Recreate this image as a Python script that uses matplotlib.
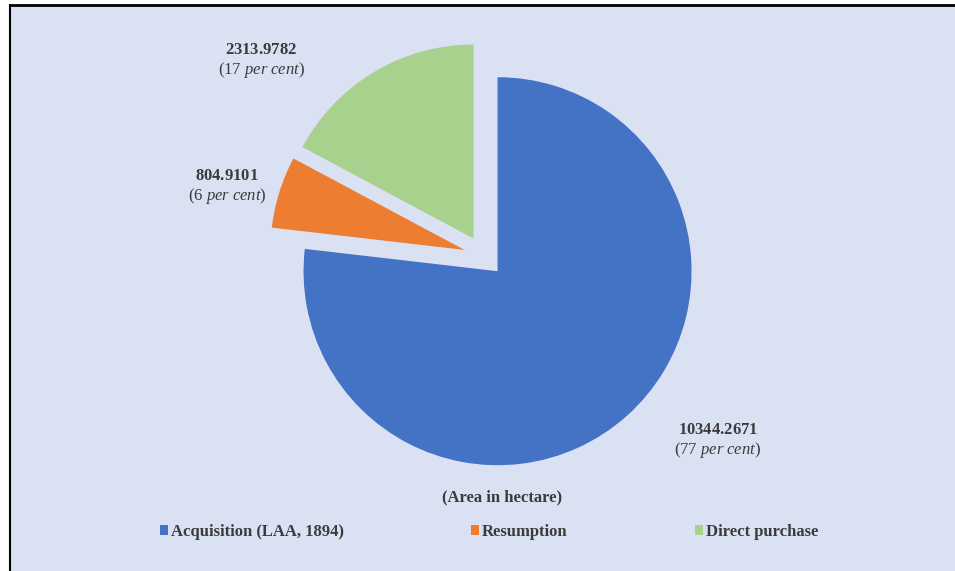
import matplotlib
matplotlib.use('Agg')
import matplotlib.pyplot as plt
from matplotlib.patches import Rectangle
from matplotlib.lines import Line2D

# data
categories = ['Acquisition (LAA, 1894)', 'Resumption', 'Direct purchase']
areas = [10344.2671, 804.9101, 2313.9782]
shares = [77, 6, 17]
colors = ['#4472C4', '#ED7D31', '#A9D18E']

# where the data labels sit (data coords, pie radius = 1)
label_pos = [(1.206, -0.954), (-1.325, 0.356), (-1.149, 1.005)]

plt.rcParams['font.family'] = 'Liberation Serif'
plt.rcParams['mathtext.fontset'] = 'custom'
plt.rcParams['mathtext.rm'] = 'Liberation Serif'
plt.rcParams['mathtext.it'] = 'Liberation Serif:italic'
plt.rcParams['mathtext.bf'] = 'Liberation Serif:bold'

bg = '#dae1f3'
txt = '#3b3b3b'

fig = plt.figure(figsize=(9.55, 5.71), dpi=100, facecolor='white')

# chart area background + the cut-off frame lines
fig.patches.append(Rectangle((11 / 955, 0), 1, 1 - 6 / 571, transform=fig.transFigure,
                             facecolor=bg, edgecolor='none', zorder=-5))
fig.lines.append(Line2D([10 / 955, 1], [1 - 5 / 571, 1 - 5 / 571], transform=fig.transFigure,
                        color='black', linewidth=2, zorder=-4))
fig.lines.append(Line2D([10 / 955, 10 / 955], [0, 1 - 5 / 571], transform=fig.transFigure,
                        color='black', linewidth=1.5, zorder=-4))

ax = fig.add_axes([0, 0, 1, 1])
ax.set_facecolor('none')
ax.set_zorder(1)

# every slice pulled out a little, like the Excel original
wedges, _ = ax.pie(areas, colors=colors, startangle=90, counterclock=False,
                   explode=[0.105, 0.105, 0.105], wedgeprops=dict(linewidth=0))

# same pixel scale on both axes, pie centre at (484, 256) px, radius 194 px
ax.set_aspect('auto')
ax.set_xlim(-484 / 194, (955 - 484) / 194)
ax.set_ylim((256 - 571) / 194, 256 / 194)
ax.axis('off')

for val, pct, (x, y) in zip(areas, shares, label_pos):
    s = r'$\mathbf{%s}$' % f'{val:.4f}' + '\n' + f'({pct} ' + r'$\mathit{per\ cent}$' + ')'
    ax.text(x, y, s, ha='center', va='center', fontsize=12, color=txt,
            multialignment='center', linespacing=1.1)

fig.text(502 / 955, 1 - 497 / 571, '(Area in hectare)', ha='center', va='center',
         fontsize=12, fontweight='bold', color=txt, zorder=3)

leg = fig.legend(wedges, categories, loc='center', bbox_to_anchor=(489 / 955, 1 - 532 / 571),
                 ncol=3, frameon=False, prop={'size': 12, 'weight': 'bold'},
                 handlelength=0.5, handleheight=0.5, handletextpad=0.15, columnspacing=7.65)
leg.set_zorder(3)
for t in leg.get_texts():
    t.set_color(txt)

fig.savefig('out.png', dpi=100, facecolor='white')
